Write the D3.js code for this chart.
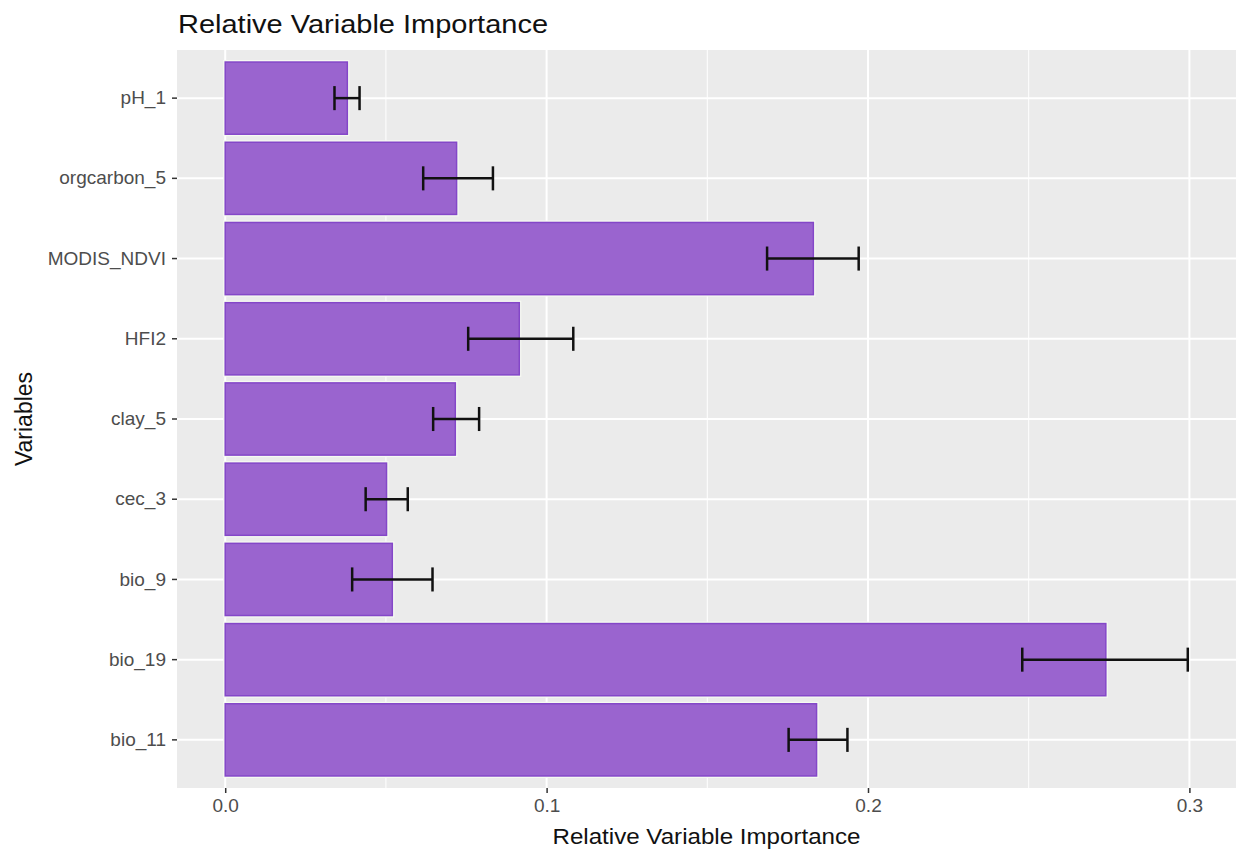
<!DOCTYPE html>
<html>
<head>
<meta charset="utf-8">
<script src="https://cdn.jsdelivr.net/npm/d3@7"></script>
<style>
  body { margin: 0; background: #fff; }
  svg { display: block; font-family: "Liberation Sans", Arial, sans-serif; }
</style>
</head>
<body>
<div id="chart-area"></div>
<script>
// variables, top to bottom as drawn
const variables = ["pH_1", "orgcarbon_5", "MODIS_NDVI", "HFI2", "clay_5", "cec_3", "bio_9", "bio_19", "bio_11"];
const importance = [0.038, 0.072, 0.183, 0.0915, 0.0716, 0.0502, 0.052, 0.274, 0.184];
const lower = [0.034, 0.0616, 0.1686, 0.0756, 0.0647, 0.0437, 0.0395, 0.248, 0.1753];
const upper = [0.0418, 0.0833, 0.1971, 0.1083, 0.079, 0.0568, 0.0645, 0.2995, 0.1936];
const xTicks = [0, 0.1, 0.2, 0.3];
const xMinor = [0.05, 0.15, 0.25];

const WIDTH = 1238,
    HEIGHT = 853,
    LEFT = 177, RIGHT = 1236, TOP = 50, BOTTOM = 788,
    PANEL_BG = '#ebebeb',
    BAR_FILL = '#9a64cf',
    BAR_STROKE = '#8447c8',
    TEXT_GRAY = '#4d4d4d';

const rows = variables.map((v, i) => ({name: v, value: importance[i], lo: lower[i], hi: upper[i]}));

const svg = d3.select("#chart-area")
    .append("svg")
    .attr("width", WIDTH)
    .attr("height", HEIGHT);

const x = d3.scaleLinear()
    .domain([-0.015, 0.3145])
    .range([LEFT, RIGHT]);

const y = d3.scaleBand()
    .domain(variables)
    .range([TOP, BOTTOM])
    .paddingInner(0.1)
    .paddingOuter(0.15);

// panel
svg.append("rect")
    .attr("x", LEFT).attr("y", TOP)
    .attr("width", RIGHT - LEFT).attr("height", BOTTOM - TOP)
    .attr("fill", PANEL_BG);

// grid
const grid = svg.append("g").attr("stroke", "#fff");
grid.selectAll("line.minor")
    .data(xMinor)
    .join("line")
    .attr("class", "minor")
    .attr("x1", d => x(d)).attr("x2", d => x(d))
    .attr("y1", TOP).attr("y2", BOTTOM)
    .attr("stroke-width", 1);
grid.selectAll("line.major")
    .data(xTicks)
    .join("line")
    .attr("class", "major")
    .attr("x1", d => x(d)).attr("x2", d => x(d))
    .attr("y1", TOP).attr("y2", BOTTOM)
    .attr("stroke-width", 2);
grid.selectAll("line.row")
    .data(variables)
    .join("line")
    .attr("class", "row")
    .attr("x1", LEFT).attr("x2", RIGHT)
    .attr("y1", d => y(d) + y.bandwidth() / 2)
    .attr("y2", d => y(d) + y.bandwidth() / 2)
    .attr("stroke-width", 2);

// bars with a light halo like the source
svg.append("g")
    .selectAll("rect")
    .data(rows)
    .join("rect")
    .attr("x", x(0) - 2)
    .attr("y", d => y(d.name) - 2)
    .attr("width", d => x(d.value) - x(0) + 4)
    .attr("height", y.bandwidth() + 4)
    .attr("fill", "#f6faf2");

svg.append("g")
    .selectAll("rect")
    .data(rows)
    .join("rect")
    .attr("x", x(0))
    .attr("y", d => y(d.name))
    .attr("width", d => x(d.value) - x(0))
    .attr("height", y.bandwidth())
    .attr("fill", BAR_FILL)
    .attr("stroke", BAR_STROKE)
    .attr("stroke-width", 1.5);

// error bars
const capH = y.step() * 0.3;
const err = svg.append("g")
    .attr("stroke", "#111")
    .attr("stroke-width", 2.5);
const eb = err.selectAll("g")
    .data(rows)
    .join("g")
    .attr("transform", d => `translate(0,${y(d.name) + y.bandwidth() / 2})`);
eb.append("line")
    .attr("x1", d => x(d.lo)).attr("x2", d => x(d.hi))
    .attr("y1", 0).attr("y2", 0);
eb.append("line")
    .attr("x1", d => x(d.lo)).attr("x2", d => x(d.lo))
    .attr("y1", -capH / 2).attr("y2", capH / 2);
eb.append("line")
    .attr("x1", d => x(d.hi)).attr("x2", d => x(d.hi))
    .attr("y1", -capH / 2).attr("y2", capH / 2);

// axes
const xAxis = svg.append("g")
    .attr("transform", `translate(0,${BOTTOM})`)
    .call(d3.axisBottom(x).tickValues(xTicks).tickFormat(d3.format(".1f")).tickSize(5).tickPadding(6));
const yAxis = svg.append("g")
    .attr("transform", `translate(${LEFT},0)`)
    .call(d3.axisLeft(y).tickSize(5).tickPadding(6));

[xAxis, yAxis].forEach(a => {
    a.select(".domain").remove();
    a.selectAll(".tick line").attr("stroke", "#333").attr("stroke-width", 1.5);
    a.selectAll(".tick text")
        .attr("fill", TEXT_GRAY)
        .style("font-size", "19px")
        .style("font-family", "'Liberation Sans', Arial, sans-serif");
});

// titles
svg.append("text")
    .attr("x", LEFT + 1)
    .attr("y", 33)
    .attr("textLength", 370)
    .attr("lengthAdjust", "spacingAndGlyphs")
    .style("font-size", "25px")
    .attr("fill", "#111")
    .text("Relative Variable Importance");

svg.append("text")
    .attr("x", (LEFT + RIGHT) / 2)
    .attr("y", 844)
    .attr("text-anchor", "middle")
    .attr("textLength", 308)
    .attr("lengthAdjust", "spacingAndGlyphs")
    .style("font-size", "22px")
    .attr("fill", "#111")
    .text("Relative Variable Importance");

svg.append("text")
    .attr("transform", `translate(32,${(TOP + BOTTOM) / 2}) rotate(-90)`)
    .attr("text-anchor", "middle")
    .style("font-size", "23px")
    .attr("fill", "#111")
    .text("Variables");
</script>
</body>
</html>
